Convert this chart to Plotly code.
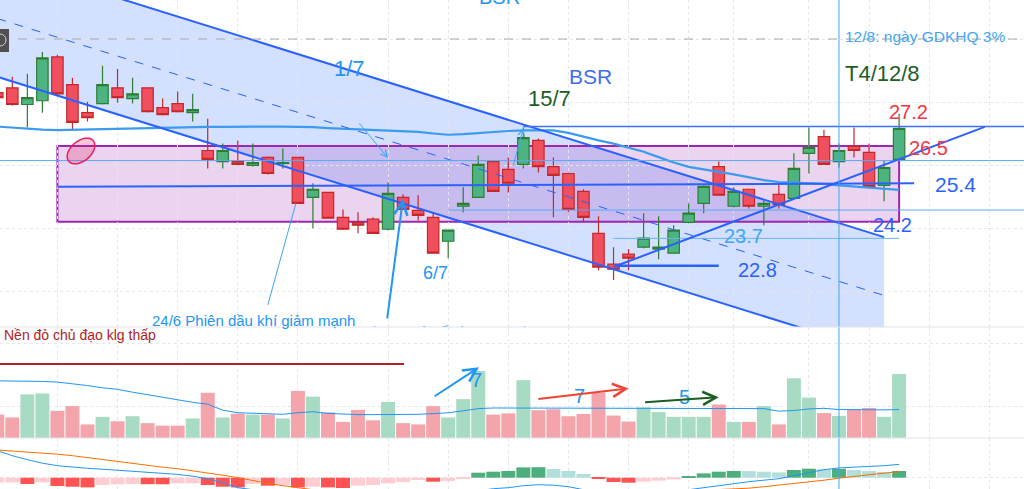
import numpy as np
import plotly.graph_objects as go
from plotly.subplots import make_subplots

# ---- data (bar index 0..60) ----
opens = [28.30, 28.45, 27.92, 28.04, 29.43, 28.55, 27.66, 27.95, 28.45, 28.11,
         28.45, 27.82, 27.95, 27.66, 26.46, 26.11, 26.11, 25.99, 26.24, 26.05,
         26.24, 24.97, 25.13, 24.34, 24.18, 24.28, 23.96, 24.97, 24.56, 24.34,
         23.58, 24.69, 24.97, 26.11, 25.86, 26.02, 26.78, 25.95, 25.73, 25.16,
         23.83, 22.85, 23.17, 23.39, 23.33, 23.20, 24.18, 24.78, 25.95, 24.69,
         25.23, 24.69, 25.07, 24.94, 26.37, 26.90, 26.11, 26.59, 26.40, 25.35,
         26.18]
highs = [28.40, 28.80, 28.90, 29.59, 29.50, 28.77, 28.01, 29.15, 29.05, 28.77,
         28.47, 28.11, 28.33, 28.26, 27.47, 26.68, 26.78, 26.68, 26.27, 26.52,
         26.26, 25.42, 25.15, 24.59, 24.50, 24.34, 25.45, 25.07, 25.04, 24.50,
         23.95, 25.29, 26.30, 26.13, 26.24, 27.19, 26.84, 26.24, 25.75, 25.23,
         24.37, 23.39, 23.33, 24.47, 24.37, 24.09, 24.78, 25.35, 26.11, 25.29,
         25.25, 24.88, 25.45, 26.37, 27.19, 27.12, 26.68, 27.19, 26.68, 26.14,
         27.63]
lows = [28.05, 27.88, 27.19, 27.66, 28.20, 27.09, 27.38, 27.92, 27.98, 27.95,
        27.67, 27.57, 27.67, 27.38, 25.89, 25.89, 25.99, 25.95, 25.70, 25.89,
        24.76, 23.99, 24.29, 23.94, 23.83, 23.81, 23.93, 24.57, 24.24, 23.18,
        23.04, 24.50, 24.95, 25.14, 25.13, 25.89, 25.76, 24.34, 24.50, 24.18,
        22.66, 22.35, 22.66, 23.36, 23.01, 23.18, 24.15, 24.47, 25.02, 24.66,
        24.62, 24.09, 24.62, 24.92, 25.73, 26.00, 25.92, 26.24, 25.29, 24.85,
        26.16]
closes = [28.14, 27.92, 28.14, 29.40, 28.26, 27.35, 27.50, 28.55, 28.14, 28.26,
          27.69, 27.60, 27.69, 27.76, 26.18, 26.46, 26.02, 26.08, 25.73, 26.08,
          24.78, 25.23, 24.31, 23.96, 24.09, 23.83, 25.10, 24.59, 24.40, 23.20,
          23.93, 24.78, 26.02, 25.16, 25.42, 26.87, 25.95, 25.67, 24.59, 24.34,
          22.76, 22.69, 23.04, 23.68, 23.39, 23.93, 24.47, 25.32, 25.04, 25.16,
          24.69, 24.78, 24.75, 25.89, 26.56, 26.02, 26.46, 26.46, 25.32, 25.92,
          27.16]
price_ma = [27.22, 27.18, 27.14, 27.12, 27.11, 27.12, 27.14, 27.16, 27.17, 27.17,
            27.17, 27.18, 27.19, 27.20, 27.21, 27.21, 27.22, 27.22, 27.22, 27.22,
            27.22, 27.20, 27.17, 27.15, 27.13, 27.11, 27.09, 27.06, 27.05, 27.00,
            26.96, 26.98, 27.02, 27.06, 27.08, 27.10, 27.11, 27.10, 27.02, 26.89,
            26.78, 26.68, 26.55, 26.42, 26.25, 26.08, 25.94, 25.85, 25.78, 25.70,
            25.60, 25.52, 25.46, 25.44, 25.42, 25.40, 25.35, 25.31, 25.28, 25.24,
            25.21]
volume = [0.74, 0.65, 1.38, 1.41, 0.86, 1.01, 0.43, 0.67, 0.53, 0.69,
          0.47, 0.39, 0.39, 0.62, 1.43, 0.65, 0.77, 0.74, 0.74, 0.62,
          1.49, 1.31, 0.81, 0.51, 0.89, 0.56, 1.14, 0.47, 0.43, 1.01,
          0.65, 1.23, 2.12, 0.74, 0.78, 1.83, 0.88, 0.91, 0.69, 0.76,
          1.44, 0.71, 0.52, 0.97, 0.82, 0.67, 0.67, 0.67, 1.06, 0.51,
          0.51, 1.01, 0.43, 1.89, 1.28, 0.79, 0.70, 0.91, 0.95, 0.67,
          2.03]
volume_ma = [1.81, 1.81, 1.80, 1.79, 1.77, 1.72, 1.66, 1.59, 1.54, 1.45,
             1.37, 1.27, 1.20, 1.13, 1.07, 0.88, 0.80, 0.79, 0.77, 0.75,
             0.80, 0.83, 0.78, 0.75, 0.74, 0.74, 0.74, 0.74, 0.75, 0.77,
             0.80, 0.86, 0.93, 0.95, 0.95, 0.95, 0.95, 0.95, 0.95, 0.95,
             0.95, 0.95, 0.95, 0.95, 0.95, 0.95, 0.95, 0.95, 0.95, 0.95,
             0.95, 0.93, 0.85, 0.87, 0.92, 0.94, 0.90, 0.89, 0.88, 0.89,
             0.90]
macd = [0.270, 0.220, 0.180, 0.145, 0.120, 0.105, 0.094, 0.085, 0.075, 0.068,
        0.060, 0.047, 0.033, 0.015, -0.010, -0.050, -0.100, -0.120, -0.140, -0.160,
        -0.190, -0.210, -0.230, -0.250, -0.260, -0.260, -0.250, -0.240, -0.220, -0.210,
        -0.190, -0.160, -0.130, -0.110, -0.100, -0.080, -0.070, -0.075, -0.090, -0.120,
        -0.150, -0.180, -0.190, -0.180, -0.160, -0.140, -0.120, -0.100, -0.075, -0.055,
        -0.040, -0.025, -0.010, 0.020, 0.050, 0.080, 0.098, 0.105, 0.110, 0.120,
        0.133]
signal = [0.277, 0.268, 0.260, 0.250, 0.235, 0.220, 0.200, 0.180, 0.160, 0.140,
          0.120, 0.105, 0.090, 0.070, 0.050, 0.025, 0.000, -0.030, -0.056, -0.080,
          -0.103, -0.125, -0.145, -0.160, -0.175, -0.185, -0.195, -0.200, -0.200, -0.195,
          -0.190, -0.185, -0.180, -0.175, -0.175, -0.180, -0.175, -0.165, -0.160, -0.155,
          -0.150, -0.145, -0.145, -0.145, -0.140, -0.135, -0.130, -0.125, -0.120, -0.115,
          -0.105, -0.090, -0.075, -0.060, -0.045, -0.025, -0.005, 0.015, 0.030, 0.045,
          0.060]
hist = [-0.047, -0.047, -0.063, -0.047, -0.083, -0.090, -0.097, -0.073, -0.067, -0.063,
        -0.065, -0.066, -0.057, -0.056, -0.073, -0.090, -0.097, -0.063, -0.080, -0.073,
        -0.097, -0.090, -0.097, -0.103, -0.080, -0.073, -0.057, -0.043, -0.023, -0.040,
        -0.033, -0.010, 0.050, 0.060, 0.067, 0.103, 0.105, 0.087, 0.067, 0.037,
        -0.013, -0.043, -0.050, -0.040, -0.030, -0.017, 0.013, 0.043, 0.060, 0.067,
        0.066, 0.060, 0.053, 0.077, 0.090, 0.085, 0.089, 0.077, 0.067, 0.057,
        0.067]
grid_bars = [4, 8, 12, 16, 20, 26, 30, 34, 38, 42, 46, 49, 54, 58, 62, 66]

bars = list(range(len(closes)))

W, H = 1024, 489
BLUE = '#2962FF'
LBLUE = '#2196F3'
SKY = '#42A5F5'
RED_TXT = '#F23645'
DGREEN = '#1E5E25'
FONT = 'Liberation Sans'


def px(x):
    return x / W


def py(y):
    return 1 - y / H


fig = make_subplots(rows=3, cols=1, shared_xaxes=True, vertical_spacing=0,
                    row_heights=[327, 111, 51])

# ---- price pane ----
fig.add_trace(go.Candlestick(
    x=bars, open=opens, high=highs, low=lows, close=closes,
    increasing=dict(fillcolor='#4DB380', line=dict(color='#2E7D32', width=1.2)),
    decreasing=dict(fillcolor='#EF4F5F', line=dict(color='#C62828', width=1.2)),
    whiskerwidth=0, hoverinfo='skip'), row=1, col=1)
fig.add_trace(go.Scatter(x=bars, y=price_ma, mode='lines',
                         line=dict(color='#3A9BF0', width=2.2), hoverinfo='skip'),
              row=1, col=1)
# note mostly hidden under the pane border
fig.add_trace(go.Scatter(x=[30.0], y=[20.66], mode='text',
                         text=['4/7 TB trả cổ tức 3% 12/8'],
                         textfont=dict(family=FONT, size=15, color=LBLUE),
                         hoverinfo='skip'), row=1, col=1)

# ---- volume pane ----
vol_colors = ['#A8DBC3' if c >= o else '#F4A4AB' for o, c in zip(opens, closes)]
fig.add_trace(go.Bar(x=bars, y=volume, marker=dict(color=vol_colors, line=dict(width=0)),
                     hoverinfo='skip'), row=2, col=1)
fig.add_trace(go.Scatter(x=bars, y=volume_ma, mode='lines',
                         line=dict(color=LBLUE, width=1), hoverinfo='skip'), row=2, col=1)

# ---- macd pane ----
hist_colors = []
for i, v in enumerate(hist):
    prev = hist[i - 1] if i > 0 else v
    if v >= 0:
        hist_colors.append('#4CAF7D' if v >= prev else '#B2DFDB')
    else:
        hist_colors.append('#FF5252' if v < prev else '#FFCDD2')
fig.add_trace(go.Bar(x=bars, y=hist, marker=dict(color=hist_colors, line=dict(width=0)),
                     hoverinfo='skip'), row=3, col=1)
fig.add_trace(go.Scatter(x=bars, y=macd, mode='lines',
                         line=dict(color=LBLUE, width=1), hoverinfo='skip'), row=3, col=1)
fig.add_trace(go.Scatter(x=bars, y=signal, mode='lines',
                         line=dict(color='#FF6D00', width=1), hoverinfo='skip'), row=3, col=1)

# ---- drawings ----
slope = -0.149
up0, lo0, end = 32.5, 28.8, 59
shapes = [
    dict(type='path', xref='x', yref='y', layer='below', line=dict(width=0),
         fillcolor='rgba(41,98,255,0.2)',
         path=f'M 0,{up0} L {end},{up0 + slope * end} L {end},{lo0 + slope * end} L 0,{lo0} Z'),
    dict(type='rect', xref='x', yref='y', layer='below', x0=4, x1=60, y0=24.2, y1=26.6,
         fillcolor='rgba(156,39,176,0.2)', line=dict(color='#9C27B0', width=2)),
    dict(type='line', xref='x', yref='y', x0=0, x1=end, y0=up0, y1=up0 + slope * end,
         line=dict(color=BLUE, width=2)),
    dict(type='line', xref='x', yref='y', x0=0, x1=end, y0=lo0, y1=lo0 + slope * end,
         line=dict(color=BLUE, width=2)),
    dict(type='line', xref='x', yref='y', x0=0, x1=end, y0=(up0 + lo0) / 2,
         y1=(up0 + lo0) / 2 + slope * end, line=dict(color=BLUE, width=1, dash='dash')),
    dict(type='line', xref='paper', yref='y', x0=0, x1=1, y0=30, y1=30,
         line=dict(color='#A8A8A8', width=1, dash='dash')),
    dict(type='line', xref='x', yref='y', x0=4, x1=61, y0=25.31, y1=25.42,
         line=dict(color=BLUE, width=2)),
    dict(type='line', xref='paper', yref='y', x0=0, x1=1, y0=26.14, y1=26.14,
         line=dict(color='#5AA9F0', width=1)),
    dict(type='line', xref='x', yref='y', x0=30, x1=70, y0=24.57, y1=24.57,
         line=dict(color='#5AA9F0', width=1)),
    dict(type='line', xref='x', yref='y', x0=35, x1=70, y0=27.22, y1=27.22,
         line=dict(color='#3F6FF5', width=1.5)),
    dict(type='line', xref='x', yref='y', x0=41, x1=60, y0=23.67, y1=23.67,
         line=dict(color='#64B5F6', width=1)),
    dict(type='line', xref='x', yref='y', x0=41, x1=48, y0=22.8, y1=22.8,
         line=dict(color=BLUE, width=2.5)),
    dict(type='line', xref='x', yref='y', x0=41.2, x1=65.7, y0=22.8, y1=27.21,
         line=dict(color=BLUE, width=2)),
    dict(type='line', xref='x', yref='y', x0=18.0, x1=19.87, y0=21.56, y1=24.79,
         line=dict(color=SKY, width=1)),
    dict(type='line', xref='x', yref='paper', x0=56, x1=56, y0=0, y1=1,
         line=dict(color=SKY, width=1)),
    dict(type='line', xref='x2', yref='y2', x0=0, x1=27.06, y0=2.34, y1=2.34,
         line=dict(color='#B22222', width=2)),
    dict(type='line', xref='paper', yref='paper', x0=0, x1=1, y0=py(327), y1=py(327),
         line=dict(color='#E0E3EB', width=1)),
    dict(type='line', xref='paper', yref='paper', x0=0, x1=1, y0=py(438), y1=py(438),
         line=dict(color='#E0E3EB', width=1)),
    dict(type='rect', xref='paper', yref='paper', x0=0, x1=px(9), y0=py(52), y1=py(29),
         fillcolor='#505050', line=dict(width=0)),
    dict(type='circle', xref='paper', yref='paper', x0=px(-6), x1=px(6), y0=py(46), y1=py(34),
         line=dict(color='#D0D0D0', width=1)),
]

# tilted pink ellipse (drawn in pixel space)
t = np.linspace(0, 2 * np.pi, 40)
ang = np.radians(40)
ex = 81 + 16 * np.cos(t) * np.cos(ang) - 10 * np.sin(t) * np.sin(ang)
ey = 151 - (16 * np.cos(t) * np.sin(ang) + 10 * np.sin(t) * np.cos(ang))
epath = 'M ' + ' L '.join(f'{px(a):.5f},{py(b):.5f}' for a, b in zip(ex, ey)) + ' Z'
shapes.append(dict(type='path', xref='paper', yref='paper', path=epath,
                   fillcolor='rgba(233,30,99,0.25)', line=dict(color='#E91E63', width=1.5)))


def label(text, x, y, size, color, anchor='center'):
    return dict(text=text, xref='paper', yref='paper', x=px(x), y=py(y),
                xanchor=anchor, yanchor='middle', showarrow=False,
                font=dict(family=FONT, size=size, color=color))


def arrow(x, y, ax, ay, color, width, xr='x', yr='y'):
    return dict(text='', x=x, y=y, ax=ax, ay=ay, xref=xr, yref=yr, axref=xr, ayref=yr,
                showarrow=True, arrowhead=5, arrowsize=1.3, arrowwidth=width,
                arrowcolor=color, standoff=0)


annotations = [
    label('BSR', 499, -3, 20, LBLUE),
    label('1/7', 349, 68, 22, LBLUE),
    label('15/7', 549, 98, 22, DGREEN),
    label('BSR', 590, 76, 21, '#3F6EF0'),
    label('12/8: ngày GDKHQ 3%', 843, 37, 15.5, SKY, 'left'),
    label('T4/12/8', 843, 74, 22, DGREEN, 'left'),
    label('27.2', 908, 112, 20, RED_TXT),
    label('26.5', 928, 148, 20, RED_TXT),
    label('25.4', 955, 185, 21, BLUE),
    label('24.2', 892, 225, 20, BLUE),
    label('23.7', 743, 236, 20, SKY),
    label('22.8', 757, 270, 20, BLUE),
    label('6/7', 435, 273, 18, LBLUE),
    label('24/6 Phiên dầu khí giảm mạnh', 150, 320, 15, LBLUE, 'left'),
    label('Nền đỏ chủ đạo klg thấp', 2, 335, 14, '#B22222', 'left'),
    label('7', 476, 380, 20, LBLUE),
    label('7', 579, 396, 20, LBLUE),
    label('5', 684, 397, 20, LBLUE),
    arrow(26.99, 24.92, 25.93, 21.08, LBLUE, 2),
    arrow(26.0, 26.22, 24.0, 27.37, SKY, 1),
    arrow(35.0, 27.17, 34.3, 25.94, SKY, 1),
    arrow(32.05, 2.24, 29.0, 1.29, LBLUE, 2, 'x2', 'y2'),
    arrow(42.0, 1.57, 35.9, 1.23, '#F44336', 2, 'x2', 'y2'),
    arrow(48.0, 1.29, 43.0, 1.13, '#1B5E20', 2, 'x2', 'y2'),
]

fig.update_xaxes(range=[0.18, 68.31], showticklabels=False, ticks='', tickvals=grid_bars,
                 showgrid=True, gridcolor='#E3E6EC', griddash='dot', zeroline=False,
                 showline=False, rangeslider_visible=False)
fig.update_yaxes(showticklabels=False, ticks='', showgrid=True, gridcolor='#E3E6EC',
                 griddash='dot', zeroline=False, showline=False)
fig.update_yaxes(range=[20.857, 31.238], tickvals=[22, 24, 26, 28, 30], row=1, col=1)
fig.update_yaxes(range=[0, 3.514], tickvals=[1, 3], row=2, col=1)
fig.update_yaxes(range=[-0.113, 0.397], tickvals=[0], row=3, col=1)

fig.update_layout(width=W, height=H, margin=dict(l=0, r=0, t=0, b=0),
                  paper_bgcolor='white', plot_bgcolor='white', showlegend=False,
                  bargap=0.07, boxgap=0.24, boxgroupgap=0,
                  shapes=shapes, annotations=annotations)

fig.write_html("out.html", config={'displayModeBar': False},
               post_script="document.body.style.margin='0';")
